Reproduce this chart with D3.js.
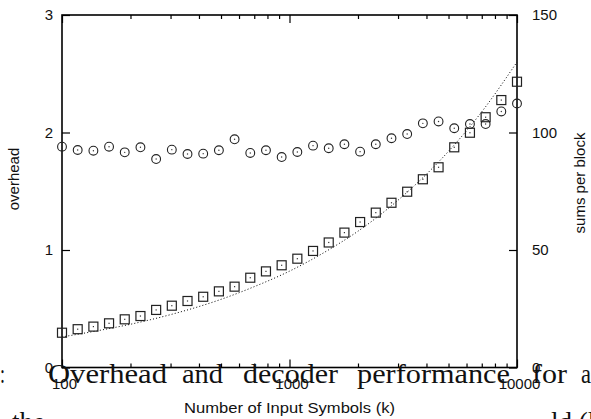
<!DOCTYPE html>
<html>
<head>
<meta charset="utf-8">
<script src="https://cdn.jsdelivr.net/npm/d3@7"></script>
<style>
  body { margin: 0; background: #fff; }
  svg { display: block; }
  .tick text { font-family: "Liberation Sans", Arial, sans-serif; font-size: 15px; fill: #111; }
  .tick line { stroke: #000; stroke-width: 1.2; }
  .domain { display: none; }
</style>
</head>
<body>
<div id="container"></div>
<script>
// input symbols k (log spaced, 30 runs)
var kValues = [100, 117.2, 137.4, 161.0, 188.7, 221.2, 259.3, 303.9, 356.2, 417.5,
               489.4, 573.6, 672.3, 788.0, 923.7, 1082.6, 1268.9, 1487.4, 1743.3, 2043.4,
               2395.1, 2807.3, 3290.5, 3856.8, 4520.6, 5298.6, 6210.5, 7279.3, 8532.0, 10000];

// overhead (left axis), circles
var overhead = [1.879, 1.851, 1.845, 1.879, 1.831, 1.874, 1.774, 1.854, 1.817, 1.820,
                1.849, 1.942, 1.826, 1.849, 1.791, 1.834, 1.888, 1.866, 1.900, 1.837,
                1.900, 1.951, 1.987, 2.078, 2.094, 2.036, 2.072, 2.072, 2.179, 2.247];

// sums per block (right axis), squares
var sumsPerBlock = [14.8, 16.3, 17.4, 18.8, 20.5, 21.9, 24.5, 26.3, 28.3, 30.1,
                    32.4, 34.4, 38.2, 40.9, 43.5, 46.3, 49.6, 53.2, 57.4, 61.9,
                    65.9, 70.1, 74.8, 80.1, 85.2, 93.7, 99.9, 106.5, 113.8, 121.6];

var curveK   = [100, 150, 200, 300, 500, 700, 1000, 1500, 2000, 3000, 5000, 7000, 10000];
var curveVal = [13, 16, 18.4, 22.5, 29, 34.4, 41, 50.3, 58, 71.2, 92, 108.8, 130];

var leftTicks = [0, 1, 2, 3];
var rightTicks = [0, 50, 100, 150];
var xLabelTicks = [100, 1000, 10000];

var width = 591, height = 419;
var plotLeft = 62, plotRight = 517, plotTop = 15, plotBottom = 367.5;

var svg = d3.select("#container").append("svg")
    .attr("width", width)
    .attr("height", height);

svg.append("rect").attr("width", width).attr("height", height).attr("fill", "#fff");

var x = d3.scaleLog().domain([100, 10000]).range([plotLeft, plotRight]);
var yL = d3.scaleLinear().domain([0, 3]).range([plotBottom, plotTop]);
var yR = d3.scaleLinear().domain([0, 150]).range([plotBottom, plotTop]);

// all log ticks 100..10000
var logTicks = x.ticks();
var isMajor = function(d) { return xLabelTicks.indexOf(d) >= 0; };

// axes (ticks pointing inward)
svg.append("g")
    .attr("transform", "translate(" + plotLeft + ",0)")
    .call(d3.axisLeft(yL).tickValues(leftTicks).tickSize(-8).tickPadding(9).tickFormat(d3.format("d")));

svg.append("g")
    .attr("transform", "translate(" + plotRight + ",0)")
    .call(d3.axisRight(yR).tickValues(rightTicks).tickSize(-8).tickPadding(15).tickFormat(d3.format("d")));

var xb = svg.append("g")
    .attr("transform", "translate(0," + plotBottom + ")")
    .call(d3.axisBottom(x).tickValues(logTicks).tickSize(-4).tickPadding(11)
      .tickFormat(function(d) { return isMajor(d) ? d3.format("d")(d) : ""; }));
xb.selectAll(".tick line").attr("y2", function(d) { return isMajor(d) ? -8 : -4; });
xb.selectAll(".tick text").attr("dx", 2);

var xt = svg.append("g")
    .attr("transform", "translate(0," + plotTop + ")")
    .call(d3.axisTop(x).tickValues(logTicks).tickSize(-4).tickFormat(""));
xt.selectAll(".tick line").attr("y2", function(d) { return isMajor(d) ? 8 : 4; });

// frame
svg.append("rect")
    .attr("x", plotLeft).attr("y", plotTop)
    .attr("width", plotRight - plotLeft).attr("height", plotBottom - plotTop)
    .attr("fill", "none").attr("stroke", "#000").attr("stroke-width", 1.6);

// dotted curve
var line = d3.line()
    .x(function(d, i) { return x(curveK[i]); })
    .y(function(d) { return yR(d); })
    .curve(d3.curveMonotoneX);

svg.append("path")
    .datum(curveVal)
    .attr("d", line)
    .attr("fill", "none")
    .attr("stroke", "#000")
    .attr("stroke-width", 1)
    .attr("stroke-dasharray", "1,2.2");

// squares: sums per block
var sq = svg.append("g").selectAll("g")
    .data(sumsPerBlock)
    .enter().append("g")
      .attr("transform", function(d, i) { return "translate(" + x(kValues[i]) + "," + yR(d) + ")"; });
sq.append("rect")
    .attr("x", -4.5).attr("y", -4.5).attr("width", 9).attr("height", 9)
    .attr("fill", "none").attr("stroke", "#222").attr("stroke-width", 1.2);
sq.append("rect")
    .attr("x", -0.6).attr("y", -0.6).attr("width", 1.2).attr("height", 1.2)
    .attr("fill", "#333");

// circles: overhead
var ci = svg.append("g").selectAll("g")
    .data(overhead)
    .enter().append("g")
      .attr("transform", function(d, i) { return "translate(" + x(kValues[i]) + "," + yL(d) + ")"; });
ci.append("circle")
    .attr("r", 4.4)
    .attr("fill", "none").attr("stroke", "#222").attr("stroke-width", 1.1);
ci.append("circle")
    .attr("r", 0.7)
    .attr("fill", "#333");

// axis titles
var sans = "Liberation Sans, Arial, sans-serif";
svg.append("text")
    .attr("transform", "translate(19,179) rotate(-90)")
    .attr("text-anchor", "middle")
    .style("font-family", sans).style("font-size", "15px").style("fill", "#111")
    .text("overhead");

svg.append("text")
    .attr("transform", "translate(585,183) rotate(-90)")
    .attr("text-anchor", "middle")
    .style("font-family", sans).style("font-size", "15px").style("fill", "#111")
    .text("sums per block");

svg.append("text")
    .attr("x", 184).attr("y", 413)
    .attr("textLength", 211).attr("lengthAdjust", "spacingAndGlyphs")
    .style("font-family", sans).style("font-size", "15px").style("fill", "#111")
    .text("Number of Input Symbols (k)");

// caption text from the page bleeding over the figure
var serif = "Liberation Serif, Times New Roman, serif";
var capWords = [":", "Overhead", "and", "decoder", "performance", "for", "a"];
var capX =     [0,   48,         182,   243,       357,           532,   581];
var capW =     [5,   119,        41,    95,        153,           35,    10];
svg.append("g").selectAll("text")
    .data(capWords)
    .enter().append("text")
      .attr("x", function(d, i) { return capX[i]; })
      .attr("y", 383)
      .attr("textLength", function(d, i) { return capW[i]; })
      .attr("lengthAdjust", "spacingAndGlyphs")
      .style("font-family", serif).style("font-size", "27px").style("fill", "#111")
      .text(function(d) { return d; });

var cap2Words = ["the", "ld (l"];
var cap2X = [12, 551];
svg.append("g").selectAll("text")
    .data(cap2Words)
    .enter().append("text")
      .attr("x", function(d, i) { return cap2X[i]; })
      .attr("y", 431)
      .style("font-family", serif).style("font-size", "27px").style("fill", "#111")
      .text(function(d) { return d; });
</script>
</body>
</html>
